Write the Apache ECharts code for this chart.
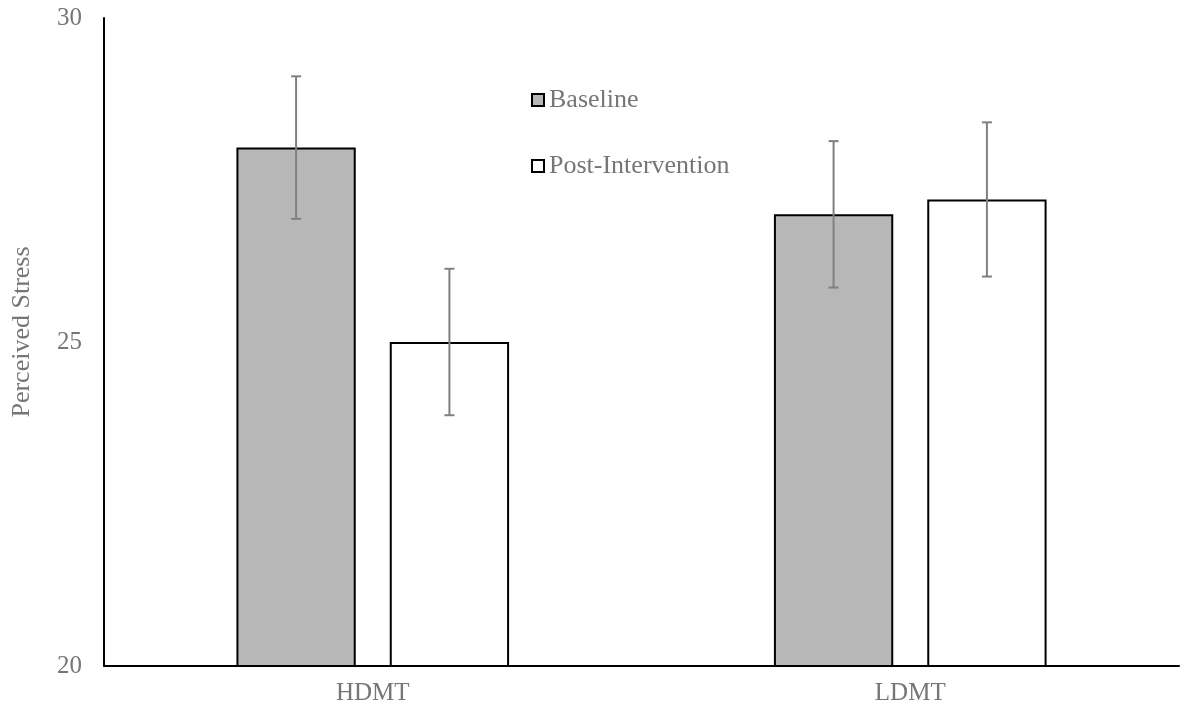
<!DOCTYPE html>
<html><head><meta charset="utf-8">
<script src="https://cdn.jsdelivr.net/npm/echarts@6/dist/echarts.min.js"></script>
<style>html,body{margin:0;padding:0;background:#fff}#c{width:1184px;height:715px}</style>
</head><body><div id="c"></div>
<script>
const categories = ['HDMT', 'LDMT'];
const seriesNames = ['Baseline', 'Post-Intervention'];
const baseline = [28.0, 26.97];
const post = [25.0, 27.2];
const baselineErr = [1.1, 1.13];
const postErr = [1.13, 1.19];
const yTicks = [20, 25, 30];

const BAR_W = 0.222, GAP = 0.285;
function errSeries(vals, errs, idx) {
  return {
    type: 'custom', z: 10, silent: true,
    data: vals.map((v, i) => [i, v - errs[i], v + errs[i]]),
    renderItem: function (params, api) {
      const band = api.size([1, 0])[0];
      const bw = band * BAR_W;
      const total = bw * 2 + bw * GAP;
      const off = -total / 2 + bw / 2 + idx * bw * (1 + GAP);
      const lo = api.coord([api.value(0), api.value(1)]);
      const hi = api.coord([api.value(0), api.value(2)]);
      const x = lo[0] + off, cap = 5;
      const st = { stroke: '#808080', lineWidth: 2 };
      return { type: 'group', children: [
        { type: 'line', shape: { x1: x, y1: lo[1], x2: x, y2: hi[1] }, style: st },
        { type: 'line', shape: { x1: x - cap, y1: lo[1], x2: x + cap, y2: lo[1] }, style: st },
        { type: 'line', shape: { x1: x - cap, y1: hi[1], x2: x + cap, y2: hi[1] }, style: st }
      ]};
    }
  };
}

const chart = echarts.init(document.getElementById('c'));
const font = '"Liberation Serif", "DejaVu Serif", serif';
chart.setOption({
  animation: false,
  grid: { left: 104, right: 5, top: 18, bottom: 49, containLabel: false, outerBoundsMode: 'none' },
  legend: {
    orient: 'vertical', left: 526, top: 82, itemGap: 40,
    itemWidth: 12, itemHeight: 12, icon: 'rect',
    data: seriesNames,
    textStyle: { fontFamily: font, fontSize: 26, color: '#767676' }
  },
  xAxis: {
    type: 'category', data: categories,
    axisLine: { lineStyle: { color: '#000', width: 2 } },
    axisTick: { show: false },
    axisLabel: { fontFamily: font, fontSize: 25, color: '#767676', margin: 15 }
  },
  yAxis: {
    type: 'value', min: 20, max: 30, interval: 5,
    name: 'Perceived Stress', nameLocation: 'middle', nameGap: 69,
    nameTextStyle: { fontFamily: font, fontSize: 26, color: '#767676', padding: [0, 0, 0, 20] },
    axisLine: { show: true, lineStyle: { color: '#000', width: 2 } },
    axisTick: { show: false },
    splitLine: { show: false },
    axisLabel: { fontFamily: font, fontSize: 25, color: '#767676', margin: 22,
      formatter: v => yTicks.includes(v) ? String(v) : '' }
  },
  series: [
    { name: seriesNames[0], type: 'bar', data: baseline, barWidth: (BAR_W*100)+'%', barGap: (GAP*100)+'%',
      itemStyle: { color: '#b7b7b7', borderColor: '#000', borderWidth: 2 } },
    { name: seriesNames[1], type: 'bar', data: post, barWidth: (BAR_W*100)+'%',
      itemStyle: { color: '#fff', borderColor: '#000', borderWidth: 2 } },
    errSeries(baseline, baselineErr, 0),
    errSeries(post, postErr, 1)
  ]
});
</script></body></html>
